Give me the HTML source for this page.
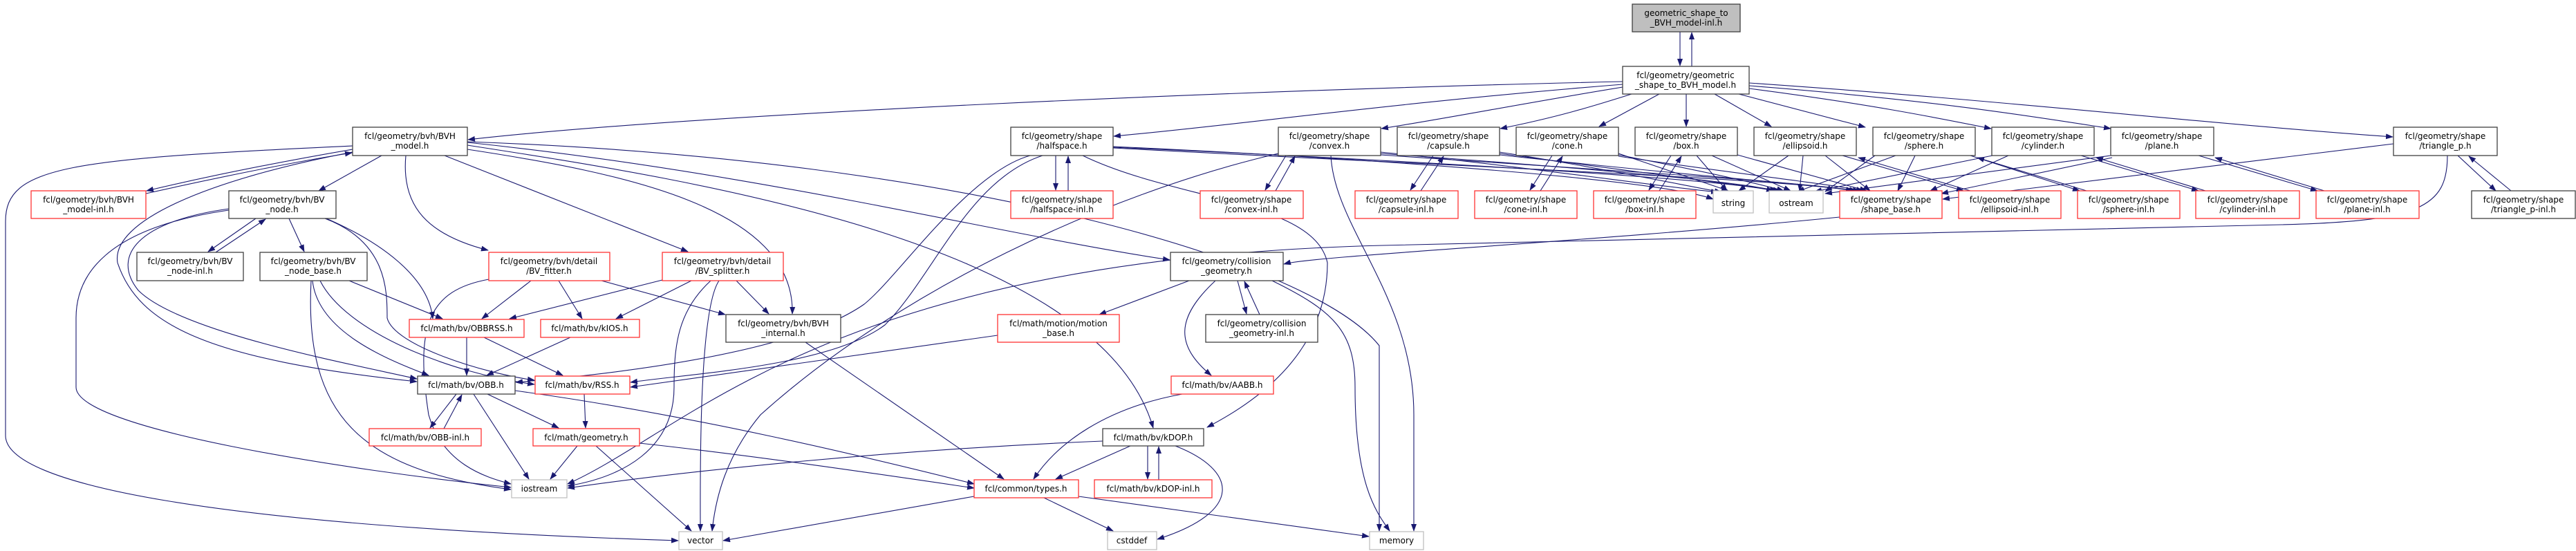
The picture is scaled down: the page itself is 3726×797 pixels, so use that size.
<!DOCTYPE html>
<html><head><meta charset="utf-8"><style>
html,body{margin:0;padding:0;background:#fff;}
svg{display:block;}
text{font-family:"DejaVu Sans","Liberation Sans",sans-serif;font-size:12px;fill:#000;text-anchor:middle;}
.e{fill:none;stroke:#191970;stroke-width:1.1;marker-end:url(#a);}
.b{fill:#fff;stroke:#404040;stroke-width:1.3;}
.r{fill:#fff;stroke:#ff3333;stroke-width:1.3;}
.g{fill:#fff;stroke:#bfbfbf;stroke-width:1.3;}
.t{fill:#bfbfbf;stroke:#404040;stroke-width:1.3;}
</style></head><body>
<svg width="3726" height="797" viewBox="0 0 3726 797" xmlns="http://www.w3.org/2000/svg">
<defs><marker id="a" markerWidth="11" markerHeight="8" refX="10" refY="4" orient="auto" markerUnits="userSpaceOnUse"><path d="M0,0 L11,4 L0,8 z" fill="#191970"/></marker></defs>
<g>
<path class="e" d="M2430,46 L2430,95"/>
<path class="e" d="M2447,96 L2447,47"/>
<path class="e" d="M2347,118 C1800,130 1000,165 677,202"/>
<path class="e" d="M2347,122 C2000,150 1800,180 1611,197"/>
<path class="e" d="M2347,126 C2200,150 2100,170 1998,186"/>
<path class="e" d="M2360,136 C2300,155 2250,170 2170,186"/>
<path class="e" d="M2400,136 L2313,183"/>
<path class="e" d="M2439,136 L2439,183"/>
<path class="e" d="M2480,136 L2562,183"/>
<path class="e" d="M2515,136 L2698,184"/>
<path class="e" d="M2530,128 C2700,150 2800,170 2880,186"/>
<path class="e" d="M2530,124 C2800,145 2950,170 3053,186"/>
<path class="e" d="M2530,120 C2900,145 3200,180 3461,198"/>
<path class="e" d="M510,216 C400,235 300,255 212,276"/>
<path class="e" d="M211,280 C300,260 420,235 509,221"/>
<path class="e" d="M552,225 L461,276"/>
<path class="e" d="M510,211 C100,230 8,240 8,320 L8,630 C8,700 300,760 981,782"/>
<path class="e" d="M510,220 C300,260 160,320 170,380 C200,470 300,520 603,552"/>
<path class="e" d="M587,225 C580,300 620,340 706,362"/>
<path class="e" d="M643,225 L995,364"/>
<path class="e" d="M676,216 C900,250 1150,300 1146,454"/>
<path class="e" d="M676,210 C1000,260 1590,350 1668,619"/>
<path class="e" d="M676,206 C1100,250 1450,340 1692,376"/>
<path class="e" d="M676,205 C1400,230 1900,380 1995,500 L1995,768"/>
<path class="e" d="M370,316 L301,364"/>
<path class="e" d="M312,365 L384,317"/>
<path class="e" d="M418,316 L440,364"/>
<path class="e" d="M331,304 C150,330 110,400 110,460 L110,560 C110,620 500,680 739,705"/>
<path class="e" d="M331,302 C200,320 160,370 200,420 C260,480 500,525 603,548"/>
<path class="e" d="M472,316 C550,350 620,400 626,461"/>
<path class="e" d="M470,316 C560,350 560,420 560,460 C570,500 700,540 773,550"/>
<path class="e" d="M505,406 L640,461"/>
<path class="e" d="M452,406 C460,480 560,520 620,543"/>
<path class="e" d="M463,406 C500,480 650,540 773,556"/>
<path class="e" d="M450,406 C440,600 520,680 739,708"/>
<path class="e" d="M768,406 L697,461"/>
<path class="e" d="M808,406 L842,461"/>
<path class="e" d="M870,406 L1049,455"/>
<path class="e" d="M707,404 C620,420 600,470 620,600 C640,670 700,690 739,700"/>
<path class="e" d="M958,405 L737,461"/>
<path class="e" d="M1000,406 L891,461"/>
<path class="e" d="M1065,406 L1112,454"/>
<path class="e" d="M1040,406 C1010,450 1013,700 1013,768"/>
<path class="e" d="M1028,406 C980,450 975,500 975,560 C975,650 900,690 821,703"/>
<path class="e" d="M675,488 L675,543"/>
<path class="e" d="M700,488 L814,543"/>
<path class="e" d="M825,488 L704,543"/>
<path class="e" d="M660,570 L622,619"/>
<path class="e" d="M642,620 L668,571"/>
<path class="e" d="M685,570 L765,693"/>
<path class="e" d="M705,570 L808,619"/>
<path class="e" d="M745,565 C1000,600 1250,660 1409,700"/>
<path class="e" d="M845,570 L847,619"/>
<path class="e" d="M835,645 L796,693"/>
<path class="e" d="M862,645 L1000,768"/>
<path class="e" d="M925,641 C1100,660 1300,690 1409,706"/>
<path class="e" d="M1165,495 L1452,693"/>
<path class="e" d="M1527,225 L1527,275"/>
<path class="e" d="M1545,276 L1545,226"/>
<path class="e" d="M1508,225 C1400,260 1350,400 1280,470 C1200,530 1000,540 912,553"/>
<path class="e" d="M1490,225 C1400,250 1300,400 1250,440 C1150,510 900,540 746,553"/>
<path class="e" d="M1566,225 C1700,290 1900,290 1920,380 C1920,520 1800,590 1746,618"/>
<path class="e" d="M1610,212 C2000,230 2400,260 2478,288"/>
<path class="e" d="M1610,213 C2100,235 2500,260 2565,276"/>
<path class="e" d="M1610,214 C2100,240 2600,260 2680,276"/>
<path class="e" d="M1860,225 L1830,275"/>
<path class="e" d="M1845,276 L1873,226"/>
<path class="e" d="M1849,222 C1600,280 1300,420 1100,600 C1050,660 1035,720 1030,768"/>
<path class="e" d="M1925,225 C1930,330 2045,430 2045,600 L2045,768"/>
<path class="e" d="M1997,220 C2200,240 2400,270 2485,278"/>
<path class="e" d="M1997,222 C2250,240 2500,260 2570,276"/>
<path class="e" d="M1997,224 C2300,245 2600,262 2685,276"/>
<path class="e" d="M2073,225 L2040,275"/>
<path class="e" d="M2055,276 L2088,226"/>
<path class="e" d="M2169,220 C2300,240 2420,265 2490,278"/>
<path class="e" d="M2169,222 C2350,245 2500,265 2575,276"/>
<path class="e" d="M2169,224 C2400,250 2600,265 2690,276"/>
<path class="e" d="M2245,225 L2213,275"/>
<path class="e" d="M2228,276 L2260,226"/>
<path class="e" d="M2341,222 L2500,276"/>
<path class="e" d="M2341,224 C2450,245 2530,262 2580,276"/>
<path class="e" d="M2341,226 C2500,250 2640,265 2695,276"/>
<path class="e" d="M2417,225 L2385,275"/>
<path class="e" d="M2400,276 L2432,226"/>
<path class="e" d="M2454,225 L2498,276"/>
<path class="e" d="M2476,225 L2590,276"/>
<path class="e" d="M2513,224 L2700,276"/>
<path class="e" d="M2587,225 L2515,276"/>
<path class="e" d="M2608,225 L2603,276"/>
<path class="e" d="M2640,225 L2705,276"/>
<path class="e" d="M2665,225 L2840,276"/>
<path class="e" d="M2850,276 L2688,228"/>
<path class="e" d="M2742,225 L2600,277"/>
<path class="e" d="M2712,225 L2640,277"/>
<path class="e" d="M2770,225 L2745,276"/>
<path class="e" d="M2850,225 L3008,276"/>
<path class="e" d="M3018,276 L2860,228"/>
<path class="e" d="M2882,225 L2625,277"/>
<path class="e" d="M2905,225 L2792,276"/>
<path class="e" d="M3010,225 L3180,276"/>
<path class="e" d="M3190,276 L3032,228"/>
<path class="e" d="M3053,225 L2640,280"/>
<path class="e" d="M3055,228 L2808,280"/>
<path class="e" d="M3180,225 L3352,276"/>
<path class="e" d="M3362,276 L3204,228"/>
<path class="e" d="M3462,208 L2810,288"/>
<path class="e" d="M3555,225 L3610,276"/>
<path class="e" d="M3632,276 L3571,226"/>
<path class="e" d="M3540,225 C3540,300 3500,320 3300,325 L2000,355 C1200,375 1000,620 821,700"/>
<path class="e" d="M2661,314 C2300,350 1900,370 1857,382"/>
<path class="e" d="M1790,406 L1803,454"/>
<path class="e" d="M1822,455 L1800,407"/>
<path class="e" d="M1720,406 L1590,455"/>
<path class="e" d="M1758,406 C1700,460 1700,500 1752,543"/>
<path class="e" d="M1840,406 C1930,450 1960,480 1960,560 C1960,700 1990,740 2010,768"/>
<path class="e" d="M1443,485 L912,560"/>
<path class="e" d="M1710,570 C1600,590 1530,640 1495,693"/>
<path class="e" d="M1635,645 L1527,693"/>
<path class="e" d="M1660,645 L1660,693"/>
<path class="e" d="M1676,694 L1676,646"/>
<path class="e" d="M1700,645 C1790,680 1800,740 1674,780"/>
<path class="e" d="M1595,638 C1300,650 1000,680 821,706"/>
<path class="e" d="M1510,720 L1610,768"/>
<path class="e" d="M1409,718 L1046,782"/>
<path class="e" d="M1560,718 L1980,776"/>
</g>
<g>
<rect class="t" x="2361" y="6" width="156" height="40"/><text x="2439" y="23">geometric_shape_to</text><text x="2439" y="37">_BVH_model-inl.h</text>
<rect class="b" x="2347" y="96" width="183" height="40"/><text x="2438" y="113">fcl/geometry/geometric</text><text x="2438" y="127">_shape_to_BVH_model.h</text>
<rect class="b" x="510" y="184" width="166" height="41"/><text x="593" y="201">fcl/geometry/bvh/BVH</text><text x="593" y="215">_model.h</text>
<rect class="b" x="1462" y="184" width="148" height="41"/><text x="1536" y="201">fcl/geometry/shape</text><text x="1536" y="215">/halfspace.h</text>
<rect class="b" x="1849" y="184" width="148" height="41"/><text x="1923" y="201">fcl/geometry/shape</text><text x="1923" y="215">/convex.h</text>
<rect class="b" x="2021" y="184" width="148" height="41"/><text x="2095" y="201">fcl/geometry/shape</text><text x="2095" y="215">/capsule.h</text>
<rect class="b" x="2193" y="184" width="148" height="41"/><text x="2267" y="201">fcl/geometry/shape</text><text x="2267" y="215">/cone.h</text>
<rect class="b" x="2365" y="184" width="148" height="41"/><text x="2439" y="201">fcl/geometry/shape</text><text x="2439" y="215">/box.h</text>
<rect class="b" x="2537" y="184" width="148" height="41"/><text x="2611" y="201">fcl/geometry/shape</text><text x="2611" y="215">/ellipsoid.h</text>
<rect class="b" x="2709" y="184" width="148" height="41"/><text x="2783" y="201">fcl/geometry/shape</text><text x="2783" y="215">/sphere.h</text>
<rect class="b" x="2881" y="184" width="148" height="41"/><text x="2955" y="201">fcl/geometry/shape</text><text x="2955" y="215">/cylinder.h</text>
<rect class="b" x="3053" y="184" width="149" height="41"/><text x="3127" y="201">fcl/geometry/shape</text><text x="3127" y="215">/plane.h</text>
<rect class="b" x="3462" y="184" width="150" height="41"/><text x="3537" y="201">fcl/geometry/shape</text><text x="3537" y="215">/triangle_p.h</text>

<rect class="r" x="45" y="276" width="166" height="40"/><text x="128" y="293">fcl/geometry/bvh/BVH</text><text x="128" y="307">_model-inl.h</text>
<rect class="b" x="331" y="276" width="155" height="40"/><text x="408" y="293">fcl/geometry/bvh/BV</text><text x="408" y="307">_node.h</text>
<rect class="r" x="1462" y="276" width="148" height="40"/><text x="1536" y="293">fcl/geometry/shape</text><text x="1536" y="307">/halfspace-inl.h</text>
<rect class="r" x="1736" y="276" width="149" height="40"/><text x="1810" y="293">fcl/geometry/shape</text><text x="1810" y="307">/convex-inl.h</text>
<rect class="r" x="1960" y="276" width="149" height="40"/><text x="2034" y="293">fcl/geometry/shape</text><text x="2034" y="307">/capsule-inl.h</text>
<rect class="r" x="2133" y="276" width="148" height="40"/><text x="2207" y="293">fcl/geometry/shape</text><text x="2207" y="307">/cone-inl.h</text>
<rect class="r" x="2305" y="276" width="148" height="40"/><text x="2379" y="293">fcl/geometry/shape</text><text x="2379" y="307">/box-inl.h</text>
<rect class="g" x="2478" y="276" width="58" height="32"/><text x="2507" y="298">string</text>
<rect class="g" x="2559" y="276" width="78" height="32"/><text x="2598" y="298">ostream</text>
<rect class="r" x="2661" y="276" width="148" height="40"/><text x="2735" y="293">fcl/geometry/shape</text><text x="2735" y="307">/shape_base.h</text>
<rect class="r" x="2833" y="276" width="148" height="40"/><text x="2907" y="293">fcl/geometry/shape</text><text x="2907" y="307">/ellipsoid-inl.h</text>
<rect class="r" x="3005" y="276" width="148" height="40"/><text x="3079" y="293">fcl/geometry/shape</text><text x="3079" y="307">/sphere-inl.h</text>
<rect class="r" x="3176" y="276" width="150" height="40"/><text x="3251" y="293">fcl/geometry/shape</text><text x="3251" y="307">/cylinder-inl.h</text>
<rect class="r" x="3350" y="276" width="149" height="40"/><text x="3424" y="293">fcl/geometry/shape</text><text x="3424" y="307">/plane-inl.h</text>
<rect class="b" x="3575" y="276" width="150" height="40"/><text x="3650" y="293">fcl/geometry/shape</text><text x="3650" y="307">/triangle_p-inl.h</text>

<rect class="b" x="198" y="365" width="154" height="41"/><text x="275" y="382">fcl/geometry/bvh/BV</text><text x="275" y="396">_node-inl.h</text>
<rect class="b" x="376" y="365" width="155" height="41"/><text x="453" y="382">fcl/geometry/bvh/BV</text><text x="453" y="396">_node_base.h</text>
<rect class="r" x="707" y="365" width="175" height="41"/><text x="794" y="382">fcl/geometry/bvh/detail</text><text x="794" y="396">/BV_fitter.h</text>
<rect class="r" x="958" y="365" width="175" height="41"/><text x="1045" y="382">fcl/geometry/bvh/detail</text><text x="1045" y="396">/BV_splitter.h</text>
<rect class="b" x="1693" y="365" width="163" height="41"/><text x="1774" y="382">fcl/geometry/collision</text><text x="1774" y="396">_geometry.h</text>

<rect class="r" x="592" y="462" width="166" height="26"/><text x="675" y="479">fcl/math/bv/OBBRSS.h</text>
<rect class="r" x="782" y="462" width="143" height="26"/><text x="853" y="479">fcl/math/bv/kIOS.h</text>
<rect class="b" x="1050" y="455" width="166" height="40"/><text x="1133" y="472">fcl/geometry/bvh/BVH</text><text x="1133" y="486">_internal.h</text>
<rect class="r" x="1443" y="455" width="176" height="40"/><text x="1531" y="472">fcl/math/motion/motion</text><text x="1531" y="486">_base.h</text>
<rect class="b" x="1744" y="455" width="162" height="40"/><text x="1825" y="472">fcl/geometry/collision</text><text x="1825" y="486">_geometry-inl.h</text>

<rect class="b" x="604" y="544" width="141" height="26"/><text x="674" y="561">fcl/math/bv/OBB.h</text>
<rect class="r" x="774" y="544" width="137" height="26"/><text x="842" y="561">fcl/math/bv/RSS.h</text>
<rect class="r" x="1694" y="544" width="148" height="26"/><text x="1768" y="561">fcl/math/bv/AABB.h</text>

<rect class="r" x="534" y="620" width="162" height="25"/><text x="615" y="637">fcl/math/bv/OBB-inl.h</text>
<rect class="r" x="771" y="620" width="154" height="25"/><text x="848" y="637">fcl/math/geometry.h</text>
<rect class="b" x="1595" y="620" width="146" height="25"/><text x="1668" y="637">fcl/math/bv/kDOP.h</text>

<rect class="g" x="740" y="694" width="80" height="26"/><text x="780" y="711">iostream</text>
<rect class="r" x="1409" y="694" width="151" height="26"/><text x="1484" y="711">fcl/common/types.h</text>
<rect class="r" x="1583" y="694" width="170" height="26"/><text x="1668" y="711">fcl/math/bv/kDOP-inl.h</text>

<rect class="g" x="982" y="769" width="63" height="26"/><text x="1013" y="786">vector</text>
<rect class="g" x="1602" y="769" width="71" height="26"/><text x="1637" y="786">cstddef</text>
<rect class="g" x="1981" y="769" width="78" height="26"/><text x="2020" y="786">memory</text>
</g>
</svg>
</body></html>
